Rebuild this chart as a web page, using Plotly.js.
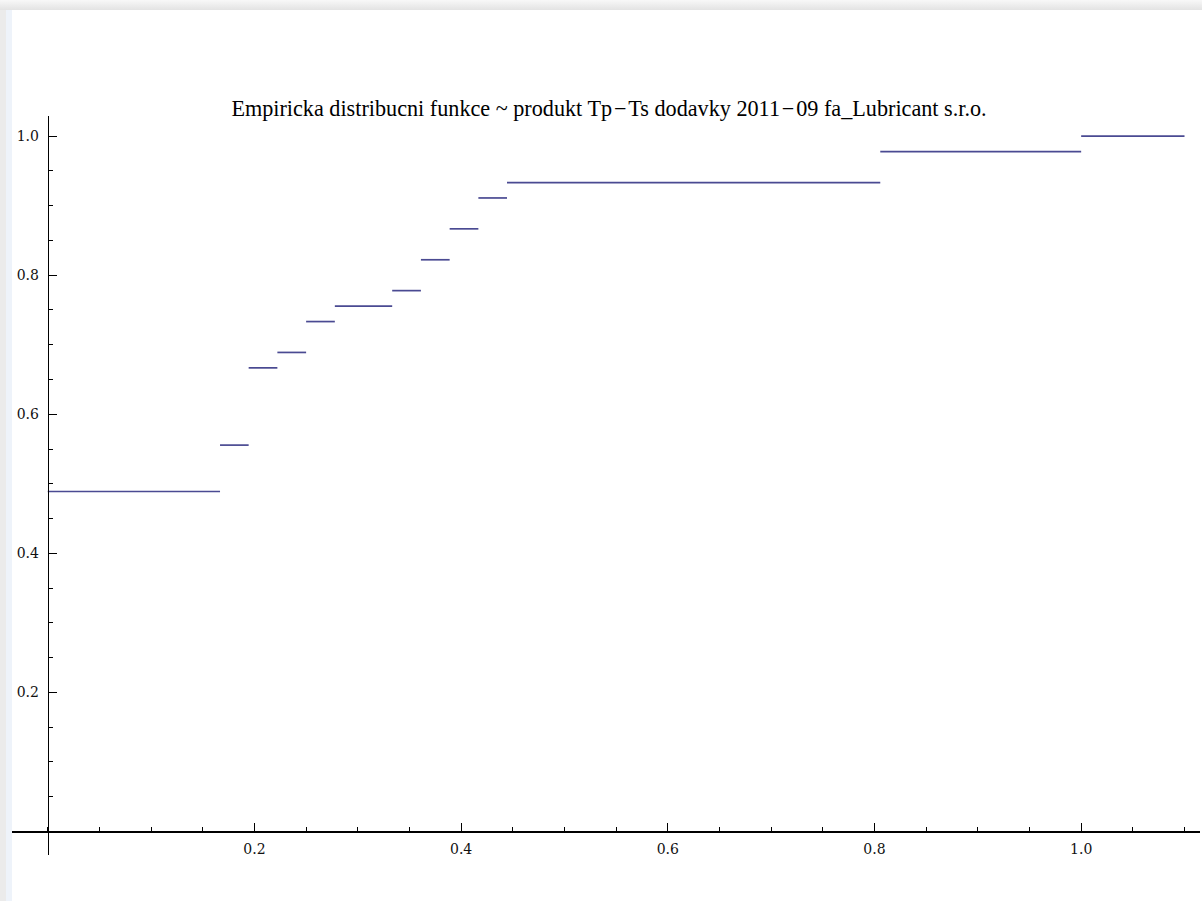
<!DOCTYPE html>
<html>
<head>
<meta charset="utf-8">
<script src="https://cdn.plot.ly/plotly-3.0.1.min.js"></script>
<style>
  html, body { margin: 0; padding: 0; background: #fff; }
  #frame {
    position: absolute; left: 0; top: 0; width: 1202px; height: 901px;
    background:
      linear-gradient(to bottom, #f8f8f8, #e3e3e3) 0 0 / 100% 10px no-repeat,
      linear-gradient(to right, #ebebeb 0 6px, #eef3fa 6px 12px, #ffffff 12px) 0 10px / 100% 100% no-repeat;
  }
  #chart { position: absolute; left: 0; top: 0; width: 1202px; height: 901px; }
</style>
</head>
<body>
<div id="frame"></div>
<div id="chart"></div>
<script>
// Empirical CDF: jump points and the cumulative share reached at each one
const jumpX = [0, 0.1667, 0.1944, 0.2222, 0.25, 0.2778, 0.3333, 0.3611, 0.3889, 0.4167, 0.4444, 0.8056, 1.0];
const cdfY  = [0.4889, 0.5556, 0.6667, 0.6889, 0.7333, 0.7556, 0.7778, 0.8222, 0.8667, 0.9111, 0.9333, 0.9778, 1.0];
const plotEnd = 1.1;

const xTicks = [0.2, 0.4, 0.6, 0.8, 1.0];
const xTickText = ['0.2', '0.4', '0.6', '0.8', '1.0'];
const yTicks = [0.2, 0.4, 0.6, 0.8, 1.0];
const yTickText = ['0.2', '0.4', '0.6', '0.8', '1.0'];

const titleText = 'Empiricka distribucni funkce ~ produkt Tp\u200a\u2212\u200aTs dodavky 2011\u200a\u2212\u200a09 fa_Lubricant s.r.o.';

// Horizontal steps, separated by gaps (no vertical risers)
const sx = [], sy = [];
for (let i = 0; i < jumpX.length; i++) {
  const x1 = i + 1 < jumpX.length ? jumpX[i + 1] : plotEnd;
  sx.push(jumpX[i], x1, null);
  sy.push(cdfY[i], cdfY[i], null);
}

const xRange = [-0.0346, 1.115];
const yRange = [-0.034, 1.029];
const xPos = (0 - xRange[0]) / (xRange[1] - xRange[0]);
const yPos = (0 - yRange[0]) / (yRange[1] - yRange[0]);

const tickFont = { family: 'DejaVu Serif', size: 14, color: '#111' };

const axisCommon = {
  showgrid: false, zeroline: false,
  showline: true, linecolor: '#000', linewidth: 1.2,
  ticks: 'inside', ticklen: 8, tickwidth: 1.2, tickcolor: '#000',
  tickmode: 'array', tickfont: tickFont,
  minor: { tickmode: 'linear', tick0: 0, dtick: 0.05, ticks: 'inside', ticklen: 4, tickwidth: 1, tickcolor: '#000', showgrid: false },
  anchor: 'free', fixedrange: true
};

const layout = {
  width: 1202, height: 901,
  paper_bgcolor: 'rgba(0,0,0,0)', plot_bgcolor: 'rgba(0,0,0,0)',
  margin: { l: 12, r: 2, t: 116, b: 46 },
  showlegend: false,
  title: {
    text: titleText,
    font: { family: 'Liberation Serif', size: 22.2, color: '#000' },
    xref: 'container', x: 609 / 1202, xanchor: 'center',
    yref: 'container', y: 1 - 108 / 901, yanchor: 'middle'
  },
  xaxis: Object.assign({}, axisCommon, {
    range: xRange, tickvals: xTicks, ticktext: xTickText,
    position: yPos, side: 'bottom', ticklabelstandoff: 5
  }),
  yaxis: Object.assign({}, axisCommon, {
    range: yRange, tickvals: yTicks, ticktext: yTickText,
    position: xPos, side: 'left', ticklabelstandoff: 6
  })
};

const trace = {
  type: 'scatter', mode: 'lines', x: sx, y: sy,
  line: { color: '#4a4a92', width: 1.7 },
  connectgaps: false, hoverinfo: 'skip'
};

Plotly.newPlot('chart', [trace], layout, { staticPlot: true, displayModeBar: false });
</script>
</body>
</html>
